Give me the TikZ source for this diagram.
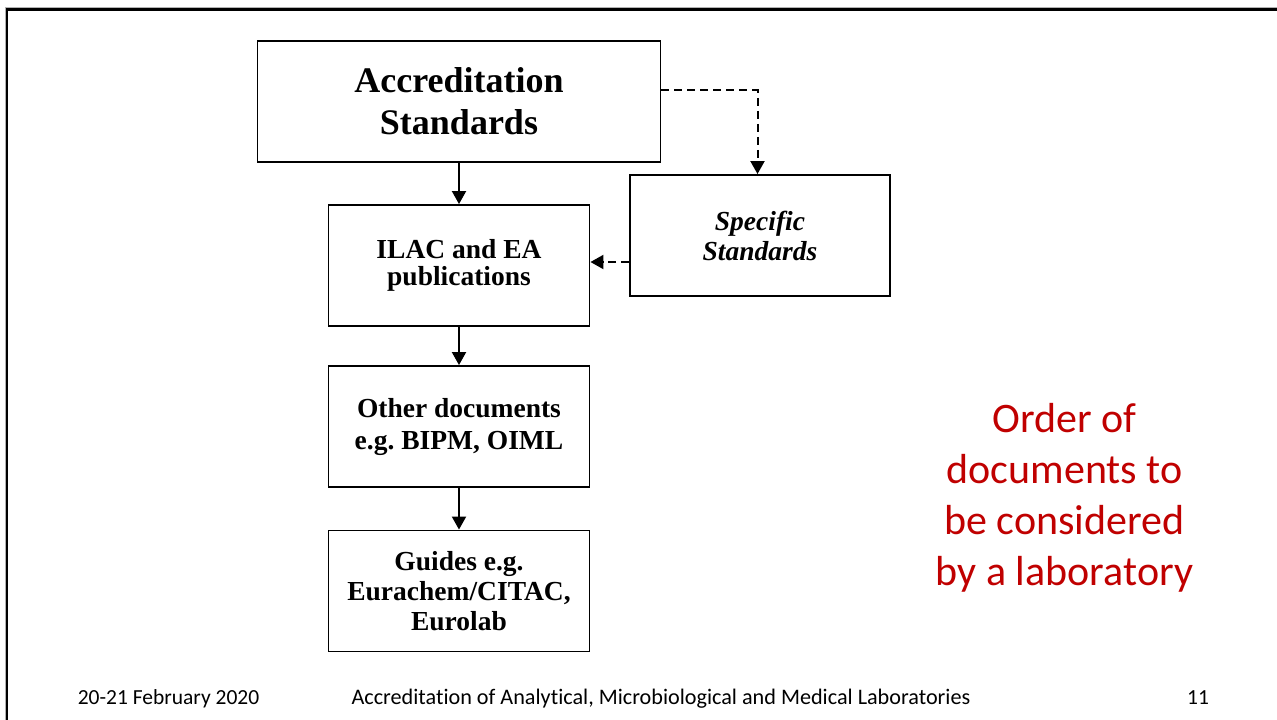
\documentclass[tikz,border=0pt]{standalone}
\usepackage{fontspec}
\setmainfont{Liberation Serif}
\newfontfamily\carl[Ligatures=NoCommon]{Carlito}
\usetikzlibrary{arrows.meta}
\definecolor{slidered}{HTML}{C00000}
\frenchspacing
\tikzset{
  box/.style={draw=black, line width=1.9pt, rectangle, inner sep=0pt, minimum width=261pt, minimum height=121pt, align=center, font=\bfseries},
  arr/.style={line width=2pt, -{Triangle[length=13pt,width=14pt]}},
  dasharr/.style={line width=2pt, dash pattern=on 8pt off 5pt, -{Triangle[length=13pt,width=14pt]}},
  foot/.style={font=\carl\fontsize{21.5}{25}\selectfont, text=black, inner sep=0pt, anchor=base}
}
\begin{document}
\begin{tikzpicture}[x=1pt,y=-1pt]
\useasboundingbox (0,0) rectangle (1277,720);
\fill[white] (0,0) rectangle (1277,720);
% slide border
\draw[gray!60, line width=1pt] (5,720) -- (5,7.5) -- (1277,7.5);
\draw[black, line width=2.6pt] (6.8,720) -- (6.8,9.6) -- (1277,9.6);
% boxes
\node[box, minimum width=403pt, minimum height=121pt, font=\bfseries\fontsize{36}{42}\selectfont] (acc) at (459,101.5) {Accreditation\\Standards};
\node[box, font=\bfseries\fontsize{27.5}{27}\selectfont] (ilac) at (459,265.5) {ILAC and EA\\publications};
\node[box, minimum width=260pt, font=\bfseries\itshape\fontsize{27.5}{30}\selectfont] (spec) at (760,235.5) {Specific\\Standards};
\node[box, font=\bfseries\fontsize{27.5}{32}\selectfont] (other) at (459,426.5) {Other documents\\e.g. BIPM, OIML};
\node[box, font=\bfseries\fontsize{27.5}{30}\selectfont] (guides) at (459,591) {Guides e.g.\\Eurachem/CITAC,\\Eurolab};
% connectors
\draw[arr] (acc.south) -- (ilac.north);
\draw[arr] (ilac.south) -- (other.north);
\draw[arr] (other.south) -- (guides.north);
\draw[dasharr] (acc.east |- 0,90) -| ([xshift=-2.5pt]spec.north);
\draw[dasharr] (spec.west |- 0,262) -- (ilac.east |- 0,262);
% red note
\node[font=\carl\fontsize{42}{51}\selectfont, text=slidered, align=center, inner sep=0pt] (order) at (1064.5,498) {Order of\\documents to\\be considered\\by a laboratory};
% footer
\node[foot] (f1) at (168.5,704) {20-21 February 2020};
\node[foot, font=\carl\fontsize{22.2}{25}\selectfont] (f2) at (661,704) {Accreditation of Analytical, Microbiological and Medical Laboratories};
\node[foot] (f3) at (1198,704) {11};
\end{tikzpicture}
\end{document}
